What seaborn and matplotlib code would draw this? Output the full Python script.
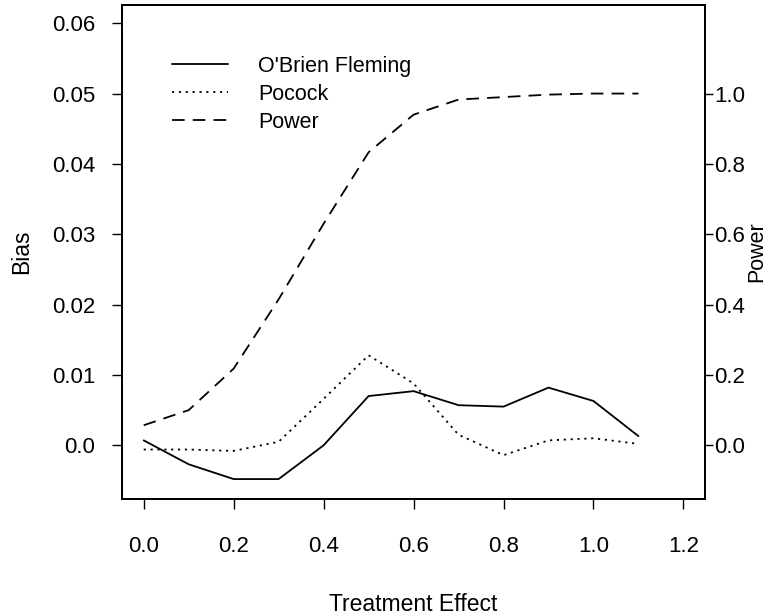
import matplotlib
matplotlib.use("Agg")
import matplotlib.pyplot as plt
import seaborn as sns
import pandas as pd
from matplotlib.lines import Line2D

effect = [0.0, 0.1, 0.2, 0.3, 0.4, 0.5, 0.6, 0.7, 0.8, 0.9, 1.0, 1.1]
obrien = [0.0007, -0.0027, -0.0048, -0.0048, 0.0000, 0.0070, 0.0077, 0.0057, 0.0055, 0.0082, 0.0063, 0.0013]
pocock = [-0.0006, -0.0006, -0.0008, 0.0005, 0.0066, 0.0128, 0.0088, 0.0015, -0.0014, 0.0007, 0.0010, 0.0002]
power = [0.057, 0.10, 0.218, 0.415, 0.63, 0.833, 0.94, 0.983, 0.99, 0.997, 1.0, 1.0]

x_ticks = [0.0, 0.2, 0.4, 0.6, 0.8, 1.0, 1.2]
bias_ticks = [0.0, 0.01, 0.02, 0.03, 0.04, 0.05, 0.06]
power_ticks = [0.0, 0.2, 0.4, 0.6, 0.8, 1.0]

df = pd.DataFrame({"effect": effect, "obrien": obrien, "pocock": pocock, "power": power})

sns.set_theme(style="ticks")
plt.rcParams["font.family"] = ["Liberation Sans", "DejaVu Sans"]
plt.rcParams["text.color"] = "black"
plt.rcParams["axes.labelcolor"] = "black"
plt.rcParams["xtick.color"] = "black"
plt.rcParams["ytick.color"] = "black"
FS = 16

fig = plt.figure(figsize=(7.68, 6.15), dpi=100)
ax = fig.add_axes([0.159, 0.189, 0.759, 0.803])
ax2 = ax.twinx()

lw = 1.3
dot = (0, (1.2, 2.6))
dash = (0, (7, 4.5))
sns.lineplot(data=df, x="effect", y="obrien", ax=ax, color="black", lw=lw, linestyle="-")
sns.lineplot(data=df, x="effect", y="pocock", ax=ax, color="black", lw=lw, linestyle=dot)
sns.lineplot(data=df, x="effect", y="power", ax=ax2, color="black", lw=lw, linestyle=dash)

ax.set_xlim(-0.048, 1.248)
ax.set_ylim(-0.0076, 0.0626)
ax2.set_ylim(-0.0076 / 0.05, 0.0626 / 0.05)

ax.set_xticks(x_ticks)
ax.set_xticklabels([f"{v:.1f}" for v in x_ticks])
ax.set_yticks(bias_ticks)
ax.set_yticklabels(["0.0" if v == 0 else f"{v:.2f}" for v in bias_ticks])
ax2.set_yticks(power_ticks)
ax2.set_yticklabels([f"{v:.1f}" for v in power_ticks])

ax.tick_params(axis="x", labelsize=FS, length=7.5, width=1.0, pad=19)
ax.tick_params(axis="y", labelsize=FS, length=7.5, width=1.0, pad=12)
ax2.tick_params(axis="y", labelsize=FS, length=6, width=1.0, pad=0.5)

for a in (ax, ax2):
    for s in a.spines.values():
        s.set_visible(True)
        s.set_linewidth(1.4)
        s.set_color("black")

ax.set_xlabel("Treatment Effect", fontsize=FS + 0.5)
ax.set_ylabel("Bias", fontsize=FS + 0.5)
ax2.set_ylabel("Power", fontsize=FS - 0.5)
ax.xaxis.set_label_coords(0.5, -0.19)
ax.yaxis.set_label_coords(-0.152, 0.5)
ax2.yaxis.set_label_coords(1.0705, 0.5)

handles = [
    Line2D([], [], color="black", lw=lw, linestyle="-"),
    Line2D([], [], color="black", lw=lw, linestyle=dot),
    Line2D([], [], color="black", lw=lw, linestyle=dash),
]
ax.legend(handles, ["O'Brien Fleming", "Pocock", "Power"], loc="upper left",
          bbox_to_anchor=(0.0858, 0.897), frameon=False, fontsize=FS - 0.5,
          handlelength=2.6, handletextpad=1.4, labelspacing=0.32, borderpad=0, borderaxespad=0)

fig.savefig("out.png", dpi=100)
